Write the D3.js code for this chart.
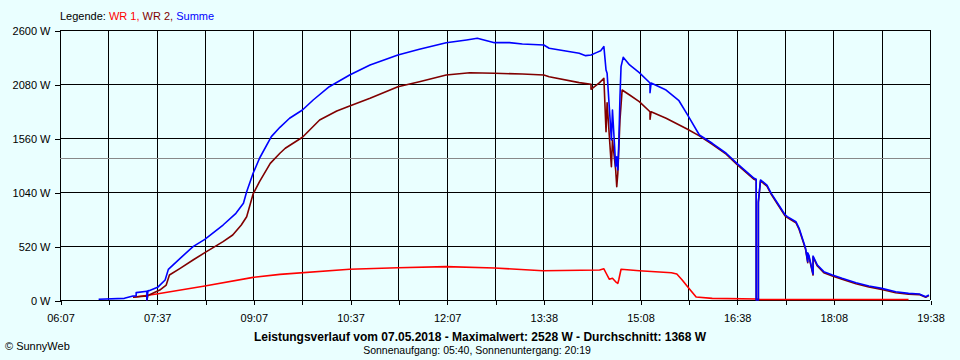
<!DOCTYPE html>
<html><head><meta charset="utf-8">
<script src="https://cdn.jsdelivr.net/npm/d3@7"></script>
<style>
html,body{margin:0;padding:0;background:#eaffff;}
svg{display:block;}
text{font-family:"Liberation Sans",Arial,sans-serif;}
</style></head>
<body>
<svg id="chart" width="960" height="360"></svg>
<script>
// ---- data ----
const timeStart = "06:07";
const timeEnd = "19:38";
const xTickLabels = ["06:07","07:37","09:07","10:37","12:07","13:38","15:08","16:38","18:08","19:38"];
const yTickValues = [0,520,1040,1560,2080,2600];
const averageValue = 1368;
const legendItems = ["WR 1","WR 2","Summe"];
const titleText = "Leistungsverlauf vom 07.05.2018 - Maximalwert: 2528 W - Durchschnitt: 1368 W";
const subtitleText = "Sonnenaufgang: 05:40, Sonnenuntergang: 20:19";
const creditText = "\u00A9 SunnyWeb";

const wr1Times = ["07:15","07:24","07:37","08:22","09:07","09:32","10:37","11:22","12:07","12:52","13:37","14:30","14:34","14:36","14:39","14:42","14:45","14:47","14:48","14:50","15:07","15:37","15:42","15:47","15:53","16:00","16:15","16:57","16:59","19:18"];
const wr1Values = [26,38,58,135,218,247,296,310,321,308,282,289,300,260,200,210,175,160,200,296,282,263,250,193,116,29,16,10,5,5];

const wr2Times = ["07:15","07:28","07:28","07:29","07:30","07:40","07:46","07:49","07:59","08:11","08:22","08:39","08:48","08:56","09:01","09:07","09:13","09:23","09:32","09:37","09:53","10:09","10:25","10:37","10:56","11:22","11:42","12:07","12:29","12:52","13:18","13:38","13:43","14:11","14:22","14:22","14:30","14:34","14:36","14:37","14:41","14:42","14:45","14:46","14:47","14:49","14:51","14:58","15:07","15:17","15:17","15:18","15:32","15:52","16:03","16:15","16:28","16:38","16:54","16:56","16:56","16:58","16:58","17:00","17:06","17:10","17:17","17:23","17:25","17:33","17:36","17:39","17:42","17:44","17:44","17:45","17:49","17:49","17:53","17:59","18:07","18:16","18:29","18:41","18:53","19:06","19:18","19:28","19:34","19:37"];
const wr2Values = [26,40,0,45,48,96,144,241,305,385,456,562,626,722,802,1021,1139,1316,1413,1461,1567,1733,1820,1868,1942,2054,2102,2167,2189,2183,2176,2167,2150,2093,2077,2029,2093,2135,1621,1900,1284,1541,1252,1091,1220,1733,2022,1974,1910,1813,1740,1813,1750,1644,1580,1500,1405,1306,1162,1152,0,0,937,1146,1097,1017,905,809,793,744,680,584,488,359,445,423,240,414,327,263,231,199,157,125,102,70,56,52,26,42];

const summeTimes = ["06:43","07:07","07:15","07:18","07:18","07:28","07:28","07:29","07:30","07:38","07:45","07:48","07:59","08:11","08:22","08:39","08:51","08:58","09:01","09:07","09:13","09:24","09:32","09:41","09:53","10:03","10:18","10:37","10:56","11:22","11:42","12:07","12:26","12:36","12:52","13:06","13:18","13:38","13:43","14:11","14:17","14:22","14:27","14:31","14:34","14:36","14:37","14:39","14:41","14:42","14:44","14:45","14:46","14:47","14:48","14:49","14:50","14:52","14:58","15:07","15:17","15:17","15:18","15:32","15:44","15:52","16:03","16:15","16:28","16:38","16:54","16:56","16:56","16:58","16:58","17:00","17:06","17:10","17:17","17:23","17:25","17:33","17:36","17:39","17:42","17:44","17:44","17:45","17:49","17:49","17:53","17:59","18:07","18:16","18:29","18:41","18:53","19:06","19:18","19:28","19:34","19:37"];
const summeValues = [7,16,38,38,71,85,0,88,90,122,193,295,401,514,584,722,835,931,1043,1220,1365,1573,1663,1750,1830,1926,2054,2167,2263,2359,2414,2478,2504,2520,2478,2478,2465,2456,2424,2376,2353,2359,2382,2401,2440,2215,2183,1862,1541,1830,1476,1284,1380,1252,1541,1958,2247,2337,2263,2189,2090,1996,2090,2022,1919,1782,1589,1509,1413,1316,1172,1162,0,0,947,1156,1107,1027,915,819,803,754,690,594,498,369,455,433,250,424,337,273,241,209,167,135,112,80,64,58,32,48];

// ---- helpers ----
const toMin = s => { const [h,m] = s.split(":").map(Number); return h*60+m; };
const zip = (ts, vs) => ts.map((t,i)=>({t:toMin(t), v:vs[i]}));

const svg = d3.select("#chart");
const L=60, R=930, T=30, B=300;
const x = d3.scaleLinear().domain([toMin(timeStart), toMin(timeEnd)]).range([L,R]);
const y = d3.scaleLinear().domain([0,2600]).range([B,T]);

svg.append("rect").attr("width",960).attr("height",360).attr("fill","#eaffff");

const nGrid = 18;
const gridTimes = d3.range(nGrid+1).map(i => toMin(timeStart) + i*(toMin(timeEnd)-toMin(timeStart))/nGrid);

// grid
const g = svg.append("g").attr("shape-rendering","crispEdges");
g.selectAll(".vg").data(gridTimes).join("line")
  .attr("x1",d=>Math.round(x(d))+0.5).attr("x2",d=>Math.round(x(d))+0.5)
  .attr("y1",T).attr("y2",B).attr("stroke","#000");
g.selectAll(".hg").data(yTickValues).join("line")
  .attr("x1",L).attr("x2",R)
  .attr("y1",d=>Math.round(y(d))+0.5).attr("y2",d=>Math.round(y(d))+0.5).attr("stroke","#000");

// average line
g.append("line").attr("x1",L).attr("x2",R)
  .attr("y1",Math.round(y(averageValue))+0.5).attr("y2",Math.round(y(averageValue))+0.5)
  .attr("stroke","#888");

// axes
const xAxis = d3.axisBottom(x).tickValues(gridTimes).tickSize(4).tickPadding(10)
  .tickFormat((d,i)=> i%2===0 ? xTickLabels[i/2] : "");
const ax = svg.append("g").attr("transform",`translate(0.5,${B+0.5})`).call(xAxis);
ax.select(".domain").remove();
ax.selectAll("line").attr("stroke","#000").attr("shape-rendering","crispEdges");
ax.selectAll("text").attr("font-size",11).attr("fill","#000").attr("font-family","Liberation Sans, Arial, sans-serif");

const yAxis = d3.axisLeft(y).tickValues(yTickValues).tickSize(6).tickPadding(4).tickFormat(d=>d+" W");
const ay = svg.append("g").attr("transform",`translate(${L+0.5},0.5)`).call(yAxis);
ay.select(".domain").remove();
ay.selectAll("line").attr("stroke","#000").attr("shape-rendering","crispEdges");
ay.selectAll("text").attr("font-size",11).attr("fill","#000").attr("font-family","Liberation Sans, Arial, sans-serif");

// series
const line = d3.line().x(d=>x(d.t)).y(d=>y(d.v));
const series = [
  {data: zip(wr1Times, wr1Values), color:"#ff0000"},
  {data: zip(wr2Times, wr2Values), color:"#800000"},
  {data: zip(summeTimes, summeValues), color:"#0000ff"}
];
svg.append("g").selectAll("path").data(series).join("path")
  .attr("d",d=>line(d.data)).attr("fill","none")
  .attr("stroke",d=>d.color).attr("stroke-width",1.6).attr("stroke-linejoin","round");

// legend
const leg = svg.append("text").attr("x",L).attr("y",20).attr("font-size",11);
leg.append("tspan").attr("fill","#000").text("Legende: ");
const legColors = ["#ff0000","#800000","#0000ff"];
legendItems.forEach((s,i)=>{
  leg.append("tspan").attr("fill",legColors[i]).text(s + (i<legendItems.length-1? ", ":""));
});

// titles
svg.append("text").attr("x",480).attr("y",340.5).attr("text-anchor","middle")
  .attr("font-size",12).attr("font-weight","bold").attr("fill","#000").text(titleText);
svg.append("text").attr("x",477).attr("y",354).attr("text-anchor","middle")
  .attr("font-size",10.5).attr("fill","#000").text(subtitleText);
svg.append("text").attr("x",5).attr("y",350).attr("font-size",11).attr("fill","#000").text(creditText);
</script>
</body></html>
